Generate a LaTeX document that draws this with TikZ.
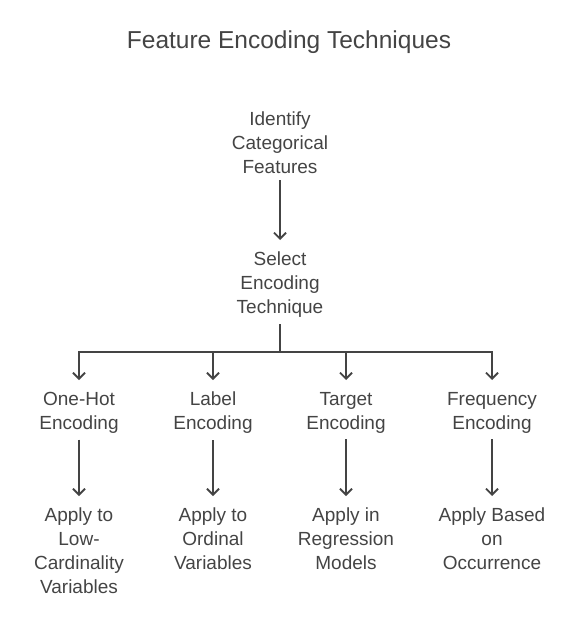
\documentclass[tikz,border=0pt]{standalone}
\usepackage{fontspec}
\setmainfont{Liberation Sans}
\usetikzlibrary{arrows.meta}
\definecolor{inkgray}{HTML}{444444}

\tikzset{
  box/.style={align=center, text=inkgray, inner sep=6pt, font=\fontsize{19}{24}\selectfont},
  link/.style={draw=inkgray, line width=1.8pt, -{Straight Barb[length=6pt,width=12pt]}, shorten >=6pt}
}

\begin{document}
\begin{tikzpicture}[x=1pt,y=-1pt]
  \useasboundingbox (0,0) rectangle (578,626);
  \node[box,font=\fontsize{24.5}{28}\selectfont] (title) at (289,42) {Feature Encoding Techniques};

  \node[box,anchor=north] (idf) at (280,106) {Identify\\Categorical\\Features};
  \node[box,anchor=north] (sel) at (280,246) {Select\\Encoding\\Technique};
  \coordinate (bus) at (280,352);

  \draw[link] (idf) -- (sel);
  \draw[draw=inkgray, line width=1.8pt] (sel) -- (bus);

  % one branch per technique
  \foreach \i/\x/\tech/\use in {
      oh/79/{One-Hot\\Encoding}/{Apply to\\Low-\\Cardinality\\Variables},
      lab/213/{Label\\Encoding}/{Apply to\\Ordinal\\Variables},
      tgt/346/{Target\\Encoding}/{Apply in\\Regression\\Models},
      frq/492/{Frequency\\Encoding}/{Apply Based\\on\\Occurrence}} {
    \node[box,anchor=north] (\i) at (\x,386) {\tech};
    \node[box,anchor=north] (\i-use) at (\x,502) {\use};
    \draw[link] (bus) -| (\i);
    \draw[link] (\i) -- (\i-use);
  }
\end{tikzpicture}
\end{document}
